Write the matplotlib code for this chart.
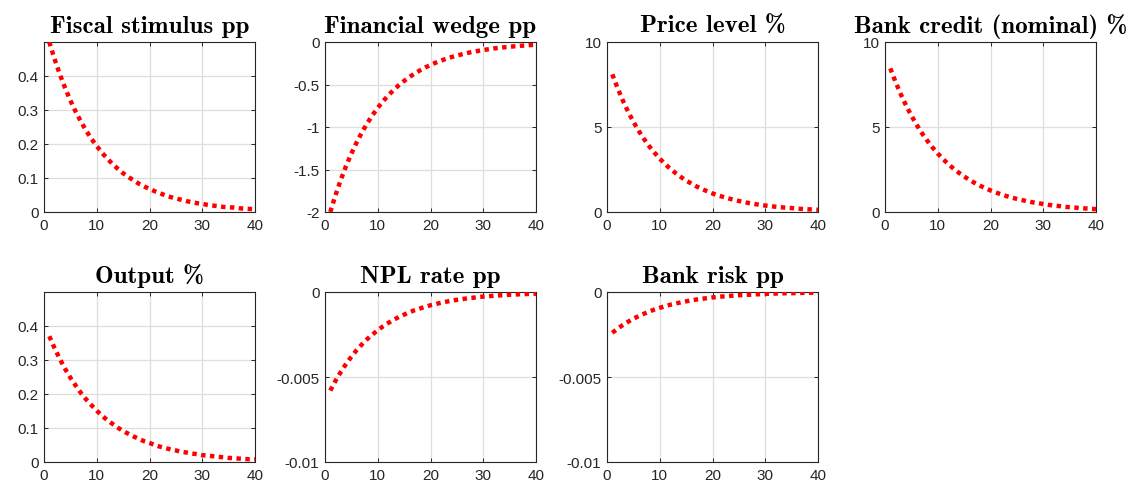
"""
Impulse responses to a fiscal stimulus shock, 7 panels in a 2x4 grid.
"""

import matplotlib

matplotlib.use("Agg")
import matplotlib.pyplot as plt

plt.rcParams["font.family"] = ["Liberation Sans", "DejaVu Sans"]

# ---------------------------------------------------------------------------
# Data
# ---------------------------------------------------------------------------

horizon = list(range(1, 41))

fiscal_stimulus = [
    0.500, 0.450, 0.405, 0.365, 0.328, 0.295, 0.266, 0.239, 0.215, 0.194,
    0.174, 0.157, 0.141, 0.127, 0.114, 0.103, 0.093, 0.083, 0.075, 0.068,
    0.061, 0.055, 0.049, 0.044, 0.040, 0.036, 0.032, 0.029, 0.026, 0.024,
    0.021, 0.019, 0.017, 0.015, 0.014, 0.013, 0.011, 0.010, 0.009, 0.008,
]
financial_wedge = [
    -2.000, -1.800, -1.620, -1.458, -1.312, -1.181, -1.063, -0.957, -0.861, -0.775,
    -0.697, -0.628, -0.565, -0.508, -0.458, -0.412, -0.371, -0.334, -0.300, -0.270,
    -0.243, -0.219, -0.197, -0.177, -0.160, -0.144, -0.129, -0.116, -0.105, -0.094,
    -0.085, -0.076, -0.069, -0.062, -0.056, -0.050, -0.045, -0.041, -0.036, -0.033,
]
price_level = [
    8.10, 7.29, 6.56, 5.90, 5.31, 4.78, 4.30, 3.87, 3.49, 3.14,
    2.82, 2.54, 2.29, 2.06, 1.85, 1.67, 1.50, 1.35, 1.22, 1.09,
    0.98, 0.89, 0.80, 0.72, 0.65, 0.58, 0.52, 0.47, 0.42, 0.38,
    0.34, 0.31, 0.28, 0.25, 0.23, 0.20, 0.18, 0.16, 0.15, 0.13,
]
bank_credit = [
    8.45, 7.65, 6.92, 6.26, 5.67, 5.13, 4.64, 4.20, 3.80, 3.44,
    3.11, 2.82, 2.55, 2.31, 2.09, 1.89, 1.71, 1.55, 1.40, 1.27,
    1.15, 1.04, 0.94, 0.85, 0.77, 0.70, 0.63, 0.57, 0.52, 0.47,
    0.42, 0.38, 0.35, 0.31, 0.28, 0.26, 0.23, 0.21, 0.19, 0.17,
]
output = [
    0.370, 0.335, 0.303, 0.274, 0.248, 0.225, 0.203, 0.184, 0.167, 0.151,
    0.136, 0.123, 0.112, 0.101, 0.091, 0.083, 0.075, 0.068, 0.061, 0.056,
    0.050, 0.045, 0.041, 0.037, 0.034, 0.030, 0.028, 0.025, 0.023, 0.020,
    0.019, 0.017, 0.015, 0.014, 0.012, 0.011, 0.010, 0.009, 0.008, 0.008,
]
npl_rate = [
    -0.00580, -0.00522, -0.00470, -0.00423, -0.00381, -0.00342, -0.00308, -0.00277, -0.00250, -0.00225,
    -0.00202, -0.00182, -0.00164, -0.00147, -0.00133, -0.00119, -0.00107, -0.00097, -0.00087, -0.00078,
    -0.00071, -0.00063, -0.00057, -0.00051, -0.00046, -0.00042, -0.00037, -0.00034, -0.00030, -0.00027,
    -0.00025, -0.00022, -0.00020, -0.00018, -0.00016, -0.00015, -0.00013, -0.00012, -0.00011, -0.00010,
]
bank_risk = [
    -0.00240, -0.00216, -0.00194, -0.00175, -0.00157, -0.00142, -0.00128, -0.00115, -0.00103, -0.00093,
    -0.00084, -0.00075, -0.00068, -0.00061, -0.00055, -0.00049, -0.00044, -0.00040, -0.00036, -0.00032,
    -0.00029, -0.00026, -0.00024, -0.00021, -0.00019, -0.00017, -0.00016, -0.00014, -0.00013, -0.00011,
    -0.00010, -0.00009, -0.00008, -0.00007, -0.00007, -0.00006, -0.00005, -0.00005, -0.00004, -0.00004,
]

titles = [
    "Fiscal stimulus pp", "Financial wedge pp", "Price level %",
    "Bank credit (nominal) %", "Output %", "NPL rate pp", "Bank risk pp",
]
series = [fiscal_stimulus, financial_wedge, price_level, bank_credit,
          output, npl_rate, bank_risk]
y_limits = [(0, 0.5), (-2, 0), (0, 10), (0, 10), (0, 0.5), (-0.01, 0), (-0.01, 0)]
y_ticks = [
    [0, 0.1, 0.2, 0.3, 0.4], [-2, -1.5, -1, -0.5, 0], [0, 5, 10], [0, 5, 10],
    [0, 0.1, 0.2, 0.3, 0.4], [-0.01, -0.005, 0], [-0.01, -0.005, 0],
]
y_ticklabels = [
    ["0", "0.1", "0.2", "0.3", "0.4"], ["-2", "-1.5", "-1", "-0.5", "0"],
    ["0", "5", "10"], ["0", "5", "10"],
    ["0", "0.1", "0.2", "0.3", "0.4"], ["-0.01", "-0.005", "0"], ["-0.01", "-0.005", "0"],
]
x_ticks = [0, 10, 20, 30, 40]

# ---------------------------------------------------------------------------
# Layout (figure fractions)
# ---------------------------------------------------------------------------

W, H = 1137, 489
LEFTS = [44, 325, 607, 885]
ROW_TOPS = [43, 293]
AX_W, AX_H = 211, 170

AXIS_COLOR = "#262626"
GRID_COLOR = "#dedede"


def draw_panel(fig, idx):
    row, col = divmod(idx, 4)
    rect = [LEFTS[col] / W, 1 - (ROW_TOPS[row] + AX_H) / H, AX_W / W, AX_H / H]
    ax = fig.add_axes(rect)

    ax.plot(horizon, series[idx], color="red", linewidth=3.2,
            linestyle=(0, (1.0, 1.0)), dash_capstyle="butt", zorder=3)

    ax.set_xlim(0, 40)
    ax.set_ylim(*y_limits[idx])
    ax.set_xticks(x_ticks)
    ax.set_xticklabels([str(t) for t in x_ticks])
    ax.set_yticks(y_ticks[idx])
    ax.set_yticklabels(y_ticklabels[idx])

    ax.grid(True, color=GRID_COLOR, linewidth=0.9)
    ax.set_axisbelow(True)
    for spine in ax.spines.values():
        spine.set_color(AXIS_COLOR)
        spine.set_linewidth(0.8)
    ax.tick_params(direction="in", length=3, width=0.7, colors=AXIS_COLOR,
                   labelsize=11, top=True, right=True, pad=4)

    ax.set_title(titles[idx], fontfamily="cmb10", fontsize=18, pad=7.5,
                 color="black")
    return ax


def main():
    fig = plt.figure(figsize=(W / 100, H / 100), dpi=100)
    for i in range(len(series)):
        draw_panel(fig, i)
    fig.savefig("out.png", dpi=100)
    plt.close(fig)


if __name__ == "__main__":
    main()
